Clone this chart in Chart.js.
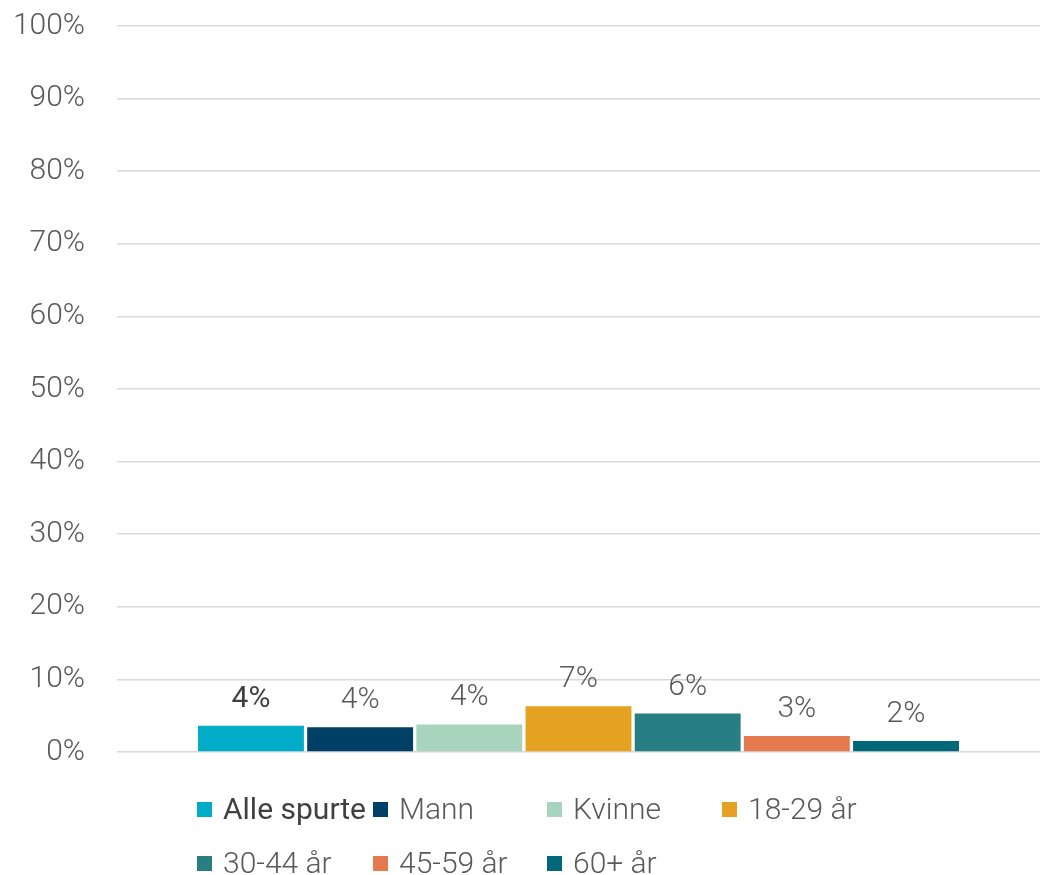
<!DOCTYPE html>
<html>
<head>
<meta charset="utf-8">
<script src="https://cdn.jsdelivr.net/npm/chart.js@4"></script>
<style>
  html, body { margin: 0; padding: 0; background: #ffffff; }
  #wrap { width: 1040px; height: 875px; position: relative; }
</style>
</head>
<body>
<div id="wrap"><canvas id="c" width="1040" height="875"></canvas></div>
<script>
// ---- data ----
const categories = [''];
const seriesNames = ['Alle spurte', 'Mann', 'Kvinne', '18-29 år', '30-44 år', '45-59 år', '60+ år'];
const seriesValues = [3.6, 3.4, 3.8, 6.3, 5.3, 2.2, 1.5];
const dataLabels = ['4%', '4%', '4%', '7%', '6%', '3%', '2%'];
const yTicks = [0, 10, 20, 30, 40, 50, 60, 70, 80, 90, 100];

// ---- styles ----
const seriesColors = ['#00ACC8', '#003F66', '#A8D4BE', '#E5A120', '#277F84', '#E67A4F', '#006878'];
const textColor = '#595959';
const FONT = 'Roboto, "Open Sans", sans-serif';

const datasets = seriesNames.map((name, i) => ({
  label: name,
  data: [seriesValues[i]],
  backgroundColor: seriesColors[i],
  borderWidth: 0,
  barPercentage: 0.97,
  categoryPercentage: 0.828
}));

const labelPlugin = {
  id: 'barLabels',
  afterDatasetsDraw(chart) {
    const ctx = chart.ctx;
    ctx.save();
    ctx.textAlign = 'center';
    ctx.textBaseline = 'alphabetic';
    chart.data.datasets.forEach((ds, i) => {
      const meta = chart.getDatasetMeta(i);
      meta.data.forEach((bar) => {
        const bold = i === 0;
        ctx.font = (bold ? '400 30px ' : '300 30px ') + FONT;
        ctx.fillStyle = bold ? '#404040' : textColor;
        ctx.fillText(dataLabels[i], bar.x, bar.y - 19);
      });
    });
    ctx.restore();
  }
};

const legendPlugin = {
  id: 'gridLegend',
  afterDraw(chart) {
    const ctx = chart.ctx;
    const cols = [197, 373, 547, 722];
    const rows = [810, 864];
    ctx.save();
    ctx.textAlign = 'left';
    ctx.textBaseline = 'middle';
    chart.data.datasets.forEach((ds, i) => {
      const x = cols[i % 4];
      const y = rows[Math.floor(i / 4)];
      ctx.fillStyle = ds.backgroundColor;
      ctx.fillRect(x, y - 8, 15, 15);
      const bold = i === 0;
      ctx.font = (bold ? '400 30px ' : '300 30px ') + FONT;
      ctx.fillStyle = bold ? '#404040' : textColor;
      ctx.fillText(ds.label, x + 26, y + 1);
    });
    ctx.restore();
  }
};

new Chart(document.getElementById('c'), {
  type: 'bar',
  data: { labels: categories, datasets },
  options: {
    responsive: false,
    animation: false,
    layout: { padding: { top: 26, bottom: 115, left: 0, right: 0 } },
    plugins: {
      legend: { display: false },
      tooltip: { enabled: false }
    },
    scales: {
      x: {
        ticks: { display: false },
        grid: { display: false },
        border: { display: false }
      },
      y: {
        min: 0,
        max: 100,
        afterBuildTicks(scale) { scale.ticks = yTicks.map(v => ({ value: v })); },
        afterFit(scale) { scale.width = 117; scale.paddingTop = 0; scale.paddingBottom = 0; },
        ticks: {
          padding: 32,
          color: textColor,
          font: { family: FONT, size: 30, weight: '300' },
          callback: (v) => v + '%'
        },
        grid: { color: '#D9D9D9', lineWidth: 1.5, drawTicks: false },
        border: { display: false }
      }
    }
  },
  plugins: [labelPlugin, legendPlugin]
});
</script>
</body>
</html>
